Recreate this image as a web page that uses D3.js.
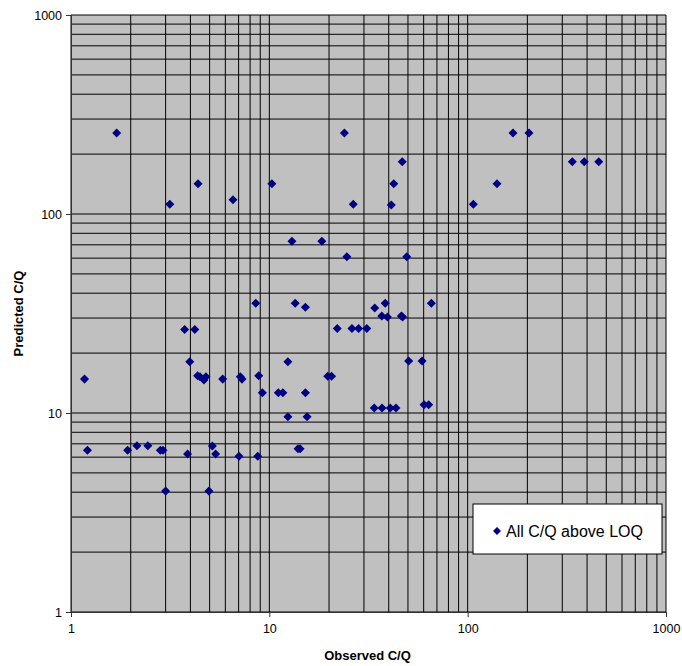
<!DOCTYPE html>
<html>
<head>
<meta charset="utf-8">
<script src="https://cdn.jsdelivr.net/npm/d3@7"></script>
<style>
  body { margin: 0; background: #fff; }
  text { font-family: Arial, "Liberation Sans", sans-serif; }
</style>
</head>
<body>
<div id="chart"></div>
<script>
// observed vs predicted C/Q
const observed = [1.17, 1.21, 1.7, 1.93, 2.15, 2.44, 2.82, 2.91, 3.0, 3.15,
  3.74, 4.21, 3.87, 3.97, 4.35, 4.37, 4.47, 4.68, 4.79, 4.96,
  5.16, 5.36, 5.82, 6.56, 7.03, 7.14, 7.28, 8.54, 8.74, 8.84,
  9.22, 10.3, 11.1, 11.7, 12.4, 12.4, 13.0, 13.5, 13.95, 14.3,
  15.2, 15.2, 15.5, 18.4, 19.7, 20.6, 22.0, 23.9, 24.6, 26.1,
  26.5, 28.2, 31.0, 33.8, 34.0, 36.9, 37.0, 38.4, 39.4, 40.7,
  41.2, 42.4, 43.5, 46.3, 46.8, 47.0, 49.3, 50.4, 58.9, 60.3,
  63.6, 65.6, 106.8, 140.6, 169.3, 203.8, 337, 387, 458];
const predicted = [14.8, 6.5, 255, 6.5, 6.85, 6.85, 6.5, 6.5, 4.05, 112,
  26.3, 26.3, 6.22, 18.1, 15.4, 142, 15.2, 14.65, 15.2, 4.05,
  6.83, 6.22, 14.8, 118, 6.06, 15.2, 14.8, 35.6, 6.06, 15.4,
  12.65, 142, 12.65, 12.65, 18.1, 9.58, 73, 35.6, 6.62, 6.62,
  34.0, 12.65, 9.58, 73, 15.3, 15.3, 26.6, 255, 61, 26.6,
  112, 26.6, 26.6, 10.6, 33.7, 30.7, 10.6, 35.6, 30.4, 10.6,
  111, 142, 10.6, 30.7, 183, 30.4, 61, 18.25, 18.25, 11.0,
  11.0, 35.6, 112, 142, 255, 255, 183, 183, 183];
const majorTicks = [1, 10, 100, 1000];
const seriesName = "All C/Q above LOQ";

var cfg = {
  width: 682, height: 666,
  margin: {top: 15, right: 16, bottom: 54, left: 71}
};
const pw = cfg.width - cfg.margin.left - cfg.margin.right;
const ph = cfg.height - cfg.margin.top - cfg.margin.bottom;

var scale = {
  x: d3.scaleLog().domain([1, 1000]).range([0, pw]),
  y: d3.scaleLog().domain([1, 1000]).range([ph, 0])
};

// 1,2,...,9,10,20,...,1000
const gridVals = [];
for (let d = 1; d < 1000; d *= 10) for (let k = 1; k < 10; k++) gridVals.push(d * k);
gridVals.push(1000);

const svg = d3.select("#chart").append("svg")
  .attr("width", cfg.width).attr("height", cfg.height);

const g = svg.append("g")
  .attr("transform", `translate(${cfg.margin.left},${cfg.margin.top})`);

// plot background
g.append("rect").attr("width", pw).attr("height", ph).attr("fill", "#c0c0c0");

// gridlines
g.append("g").selectAll("line").data(gridVals).enter().append("line")
  .attr("x1", d => scale.x(d)).attr("x2", d => scale.x(d))
  .attr("y1", 0).attr("y2", ph)
  .attr("stroke", "#000").attr("stroke-width", 1);
g.append("g").selectAll("line").data(gridVals).enter().append("line")
  .attr("y1", d => scale.y(d)).attr("y2", d => scale.y(d))
  .attr("x1", 0).attr("x2", pw)
  .attr("stroke", "#000").attr("stroke-width", 1);

// axes
let xAxis = g.append("g")
  .attr("transform", `translate(0,${ph})`)
  .call(d3.axisBottom(scale.x).tickValues(majorTicks).tickFormat(d3.format("d"))
    .tickSize(5).tickPadding(7));
let yAxis = g.append("g")
  .call(d3.axisLeft(scale.y).tickValues(majorTicks).tickFormat(d3.format("d"))
    .tickSize(5).tickPadding(4));
[xAxis, yAxis].forEach(a => {
  a.select(".domain").attr("stroke", "#333");
  a.selectAll("line").attr("stroke", "#333");
  a.selectAll("text").style("font-size", "12.5px").attr("fill", "#000")
    .style("font-family", "Arial, 'Liberation Sans', sans-serif");
});

// points
const diamond = d3.symbol().type(d3.symbolDiamond2).size(52);
g.append("g").selectAll("path").data(observed).enter().append("path")
  .attr("d", diamond)
  .attr("transform", (d, i) => `translate(${scale.x(d)},${scale.y(predicted[i])})`)
  .attr("fill", "#000080");

// axis titles
svg.append("text")
  .attr("x", cfg.margin.left + pw / 2 - 1).attr("y", 660)
  .attr("text-anchor", "middle")
  .style("font-size", "13px").style("font-weight", "bold")
  .text("Observed C/Q");
svg.append("text")
  .attr("transform", `translate(23,${cfg.margin.top + ph / 2}) rotate(-90)`)
  .attr("text-anchor", "middle")
  .style("font-size", "13px").style("font-weight", "bold")
  .text("Predicted C/Q");

// legend
const legend = svg.append("g").attr("transform", "translate(473,504)");
legend.append("rect").attr("width", 189).attr("height", 50)
  .attr("fill", "#fff").attr("stroke", "#000").attr("stroke-width", 1);
legend.append("path").attr("d", d3.symbol().type(d3.symbolDiamond2).size(40))
  .attr("transform", "translate(24,27)").attr("fill", "#000080");
legend.append("text").attr("x", 33).attr("y", 33)
  .style("font-size", "16px").text(seriesName);
</script>
</body>
</html>
